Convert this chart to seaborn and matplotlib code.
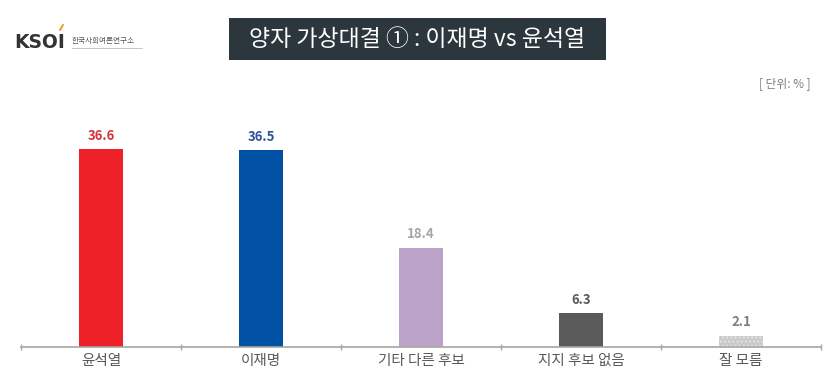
import matplotlib
matplotlib.use("Agg")
import matplotlib.pyplot as plt
import seaborn as sns
import pandas as pd
from matplotlib.patches import Rectangle

categories = ["윤석열", "이재명", "기타 다른 후보", "지지 후보 없음", "잘 모름"]
values = [36.6, 36.5, 18.4, 6.3, 2.1]
bar_colors = ["#EE2028", "#0050A3", "#BBA2C8", "#5A5A5A", "#C9C9C9"]
label_colors = ["#D2343E", "#2F5597", "#A6A6A6", "#595959", "#7F7F7F"]
title = "양자 가상대결 ① : 이재명 vs 윤석열"
unit = "[ 단위: % ]"

sns.set_theme(style="white")
plt.rcParams["font.family"] = ["Noto Sans CJK KR", "DejaVu Sans"]

df = pd.DataFrame({"cat": categories, "val": values})
fig = plt.figure(figsize=(8.36, 3.81), dpi=100)
ax = fig.add_axes([21/836, 34/381, 800/836, 243/381])
sns.barplot(data=df, x="cat", y="val", hue="cat", palette=bar_colors,
            width=0.28, legend=False, ax=ax, saturation=1, linewidth=0)

# dotted pattern on last bar
last = ax.patches[-1]
last.set_hatch("....")
last.set_edgecolor("#E4E4E4")
last.set_linewidth(0)

for i, (v, c) in enumerate(zip(values, label_colors)):
    ax.annotate(f"{v:.1f}", (i, v), xytext=(0, 4.5), textcoords="offset points",
                ha="center", va="bottom", fontsize=9.5, fontweight="bold", color=c)

ax.set_xlim(-0.5, 4.5)
ax.set_ylim(0, 45)
ax.set_xlabel("")
ax.set_ylabel("")
ax.set_yticks([])
for s in ["top", "right", "left"]:
    ax.spines[s].set_visible(False)
ax.spines["bottom"].set_color("#A6A6A6")
ax.spines["bottom"].set_linewidth(1.2)
ax.set_xticks(range(5))
ax.set_xticklabels(categories, fontsize=10.5, color="#595959")
ax.tick_params(axis="x", length=0, pad=5)
ax.set_xticks([-0.5, 0.5, 1.5, 2.5, 3.5, 4.5], minor=True)
ax.tick_params(axis="x", which="minor", length=4, direction="inout",
               color="#A6A6A6", width=1, bottom=True)

# title box
fig.patches.append(Rectangle((229/836, 1 - 60/381), 377/836, 42/381,
                             transform=fig.transFigure, facecolor="#2B363D",
                             edgecolor="none"))
fig.text(417/836, 1 - 39/381, title, ha="center", va="center",
         fontsize=16.5, color="white")

# logo
fig.text(14/836, 1 - 42/381, "KSOI", ha="left", va="center", fontsize=13.5,
         fontweight="bold", color="#333333", family=["DejaVu Sans"])
fig.lines.append(plt.Line2D([60/836, 63/836], [1 - 30/381, 1 - 25/381],
                            transform=fig.transFigure, color="#F0A020", lw=1.5))
fig.text(72/836, 1 - 41/381, "한국사회여론연구소", ha="left", va="center",
         fontsize=5.5, color="#555555")
fig.lines.append(plt.Line2D([72/836, 142/836], [1 - 48/381, 1 - 48/381],
                            transform=fig.transFigure, color="#BBBBBB", lw=0.6))

fig.text(811/836, 1 - 84/381, unit, ha="right", va="center",
         fontsize=8.5, color="#7F7F7F")

fig.savefig("out.png", dpi=100)
